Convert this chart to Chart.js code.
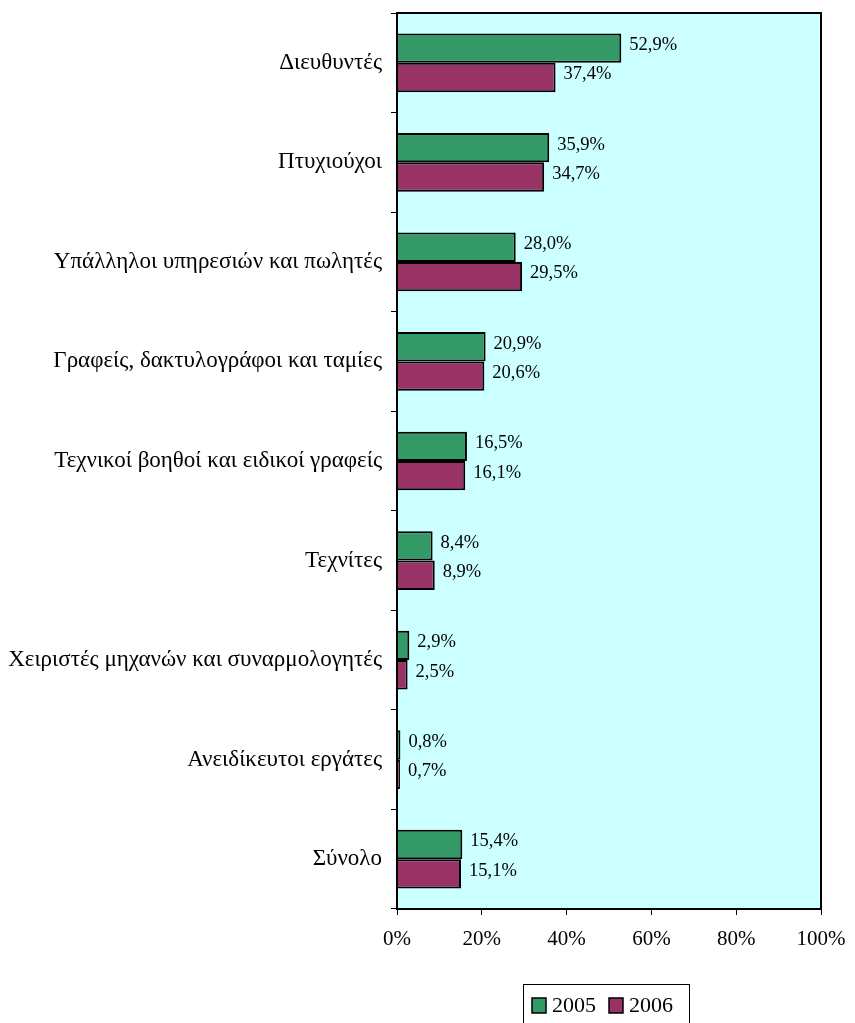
<!DOCTYPE html>
<html>
<head>
<meta charset="utf-8">
<script src="https://cdn.jsdelivr.net/npm/chart.js@4"></script>
<style>
  html, body { margin: 0; padding: 0; background: #fff; }
  #wrap { width: 855px; height: 1023px; }
</style>
</head>
<body>
<div id="wrap"><canvas id="chart"></canvas></div>
<script>
const categories = [
  'Διευθυντές',
  'Πτυχιούχοι',
  'Υπάλληλοι υπηρεσιών και πωλητές',
  'Γραφείς, δακτυλογράφοι και ταμίες',
  'Τεχνικοί βοηθοί και ειδικοί γραφείς',
  'Τεχνίτες',
  'Χειριστές μηχανών και συναρμολογητές',
  'Ανειδίκευτοι εργάτες',
  'Σύνολο'
];
const values2005 = [52.9, 35.9, 28.0, 20.9, 16.5, 8.4, 2.9, 0.8, 15.4];
const values2006 = [37.4, 34.7, 29.5, 20.6, 16.1, 8.9, 2.5, 0.7, 15.1];
const xTicks = [0, 20, 40, 60, 80, 100];

const FONT = '"Liberation Serif", "Times New Roman", serif';

const plotFrame = {
  id: 'plotFrame',
  beforeDatasetsDraw(chart) {
    const a = chart.chartArea, ctx = chart.ctx;
    ctx.save();
    ctx.fillStyle = '#CCFFFF';
    ctx.fillRect(a.left, a.top, a.right - a.left, a.bottom - a.top);
    ctx.restore();
  },
  afterDatasetsDraw(chart) {
    const a = chart.chartArea, ctx = chart.ctx;
    ctx.save();
    ctx.strokeStyle = '#000';
    ctx.lineWidth = 2;
    ctx.strokeRect(a.left, a.top, a.right - a.left, a.bottom - a.top);

    // value labels
    ctx.font = '18.5px ' + FONT;
    ctx.fillStyle = '#000';
    ctx.textBaseline = 'middle';
    ctx.textAlign = 'left';
    chart.data.datasets.forEach((ds, i) => {
      chart.getDatasetMeta(i).data.forEach((bar, j) => {
        const txt = ds.data[j].toFixed(1).replace('.', ',') + '%';
        ctx.fillText(txt, bar.x + 8, bar.y - 3);
      });
    });

    // boxed legend
    const lx = 523, ly = 984, lw = 166, lh = 42;
    ctx.lineWidth = 1;
    ctx.strokeRect(lx + 0.5, ly + 0.5, lw, lh);
    ctx.font = '22px ' + FONT;
    let x = lx + 9;
    chart.data.datasets.forEach(ds => {
      ctx.fillStyle = ds.backgroundColor;
      ctx.fillRect(x, ly + 14, 14, 15);
      ctx.strokeStyle = '#000';
      ctx.lineWidth = 1.5;
      ctx.strokeRect(x, ly + 14, 14, 15);
      ctx.fillStyle = '#000';
      ctx.fillText(ds.label, x + 20, ly + 22);
      x += 77;
    });
    ctx.restore();
  }
};

function noScalePadding(scale) {
  scale.paddingTop = 0;
  scale.paddingBottom = 0;
  scale.paddingLeft = 0;
  scale.paddingRight = 0;
}

new Chart(document.getElementById('chart'), {
  type: 'bar',
  data: {
    labels: categories,
    datasets: [
      { label: '2005', data: values2005, backgroundColor: '#339966', borderColor: '#000', borderWidth: 2 },
      { label: '2006', data: values2006, backgroundColor: '#993366', borderColor: '#000', borderWidth: 2 }
    ]
  },
  options: {
    indexAxis: 'y',
    responsive: true,
    maintainAspectRatio: false,
    animation: false,
    layout: { padding: { top: 13, right: 34, bottom: 44, left: 0 } },
    datasets: { bar: { categoryPercentage: 0.59, barPercentage: 1.0 } },
    plugins: { legend: { display: false }, tooltip: { enabled: false } },
    scales: {
      x: {
        min: 0, max: 100,
        afterBuildTicks(scale) { scale.ticks = xTicks.map(v => ({ value: v })); },
        afterFit(scale) { scale.height = 70; noScalePadding(scale); },
        border: { display: false },
        grid: { drawOnChartArea: false, color: '#000', tickLength: 6, lineWidth: 1 },
        ticks: {
          color: '#000', padding: 12,
          font: { family: FONT, size: 21 },
          callback: v => v + '%'
        }
      },
      y: {
        afterFit(scale) { scale.width = 397; noScalePadding(scale); },
        border: { display: false },
        grid: { drawOnChartArea: false, color: '#000', tickLength: 6, offset: true },
        ticks: {
          color: '#000', padding: 9,
          font: { family: FONT, size: 23 }
        }
      }
    }
  },
  plugins: [plotFrame]
});
</script>
</body>
</html>
